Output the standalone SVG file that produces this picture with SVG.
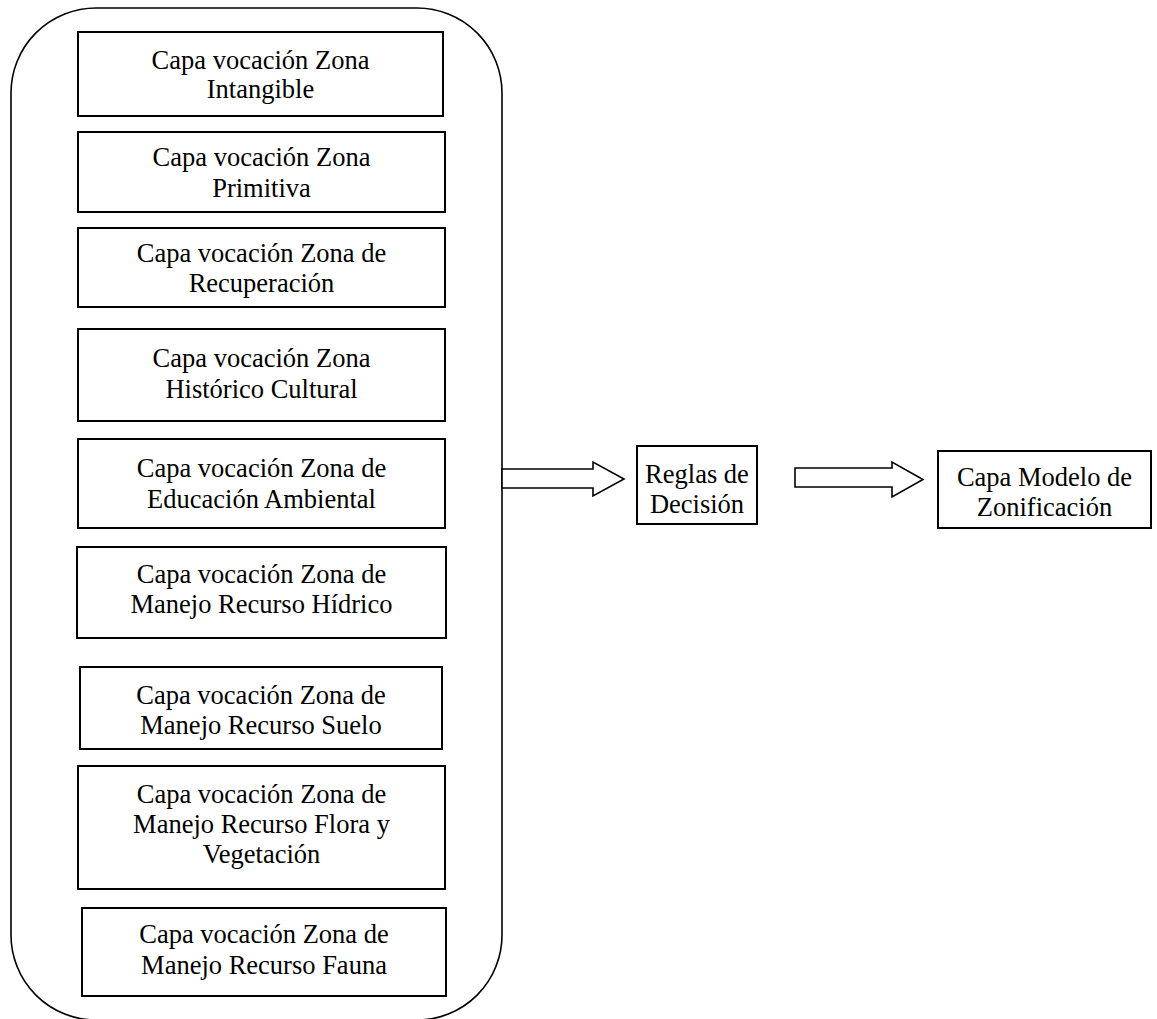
<svg xmlns="http://www.w3.org/2000/svg" width="1157" height="1019" viewBox="0 0 1157 1019">
<style>
.box{fill:#fff;stroke:#000;stroke-width:2}
.outer{fill:#fff;stroke:#000;stroke-width:1.6}
.arr{fill:#fff;stroke:#000;stroke-width:1.6;stroke-linejoin:miter}
text{font-family:"Liberation Serif","Times New Roman",serif;font-size:26.5px;fill:#000;text-anchor:middle}
</style>
<rect width="1157" height="1019" fill="#fff"/>
<g id="container">
<rect class="outer" x="11" y="8" width="491" height="1012" rx="85" ry="85"/>
</g>
<g id="n1"><rect class="box" x="78" y="32" width="365" height="84"/><text x="260.5" y="69">Capa vocación Zona</text><text x="260.5" y="98">Intangible</text></g>
<g id="n2"><rect class="box" x="78" y="132" width="367" height="80"/><text x="261.5" y="166">Capa vocación Zona</text><text x="261.5" y="197">Primitiva</text></g>
<g id="n3"><rect class="box" x="78" y="228" width="367" height="79"/><text x="261.5" y="262">Capa vocación Zona de</text><text x="261.5" y="292">Recuperación</text></g>
<g id="n4"><rect class="box" x="78" y="329" width="367" height="92"/><text x="261.5" y="367">Capa vocación Zona</text><text x="261.5" y="398">Histórico Cultural</text></g>
<g id="n5"><rect class="box" x="78" y="439" width="367" height="89"/><text x="261.5" y="477">Capa vocación Zona de</text><text x="261.5" y="508">Educación Ambiental</text></g>
<g id="n6"><rect class="box" x="77" y="547" width="369" height="91"/><text x="261.5" y="583">Capa vocación Zona de</text><text x="261.5" y="613">Manejo Recurso Hídrico</text></g>
<g id="n7"><rect class="box" x="80" y="667" width="362" height="82"/><text x="261" y="704">Capa vocación Zona de</text><text x="261" y="734">Manejo Recurso Suelo</text></g>
<g id="n8"><rect class="box" x="78" y="766" width="367" height="123"/><text x="261.5" y="803">Capa vocación Zona de</text><text x="261.5" y="833">Manejo Recurso Flora y</text><text x="261.5" y="863">Vegetación</text></g>
<g id="n9"><rect class="box" x="82" y="908" width="364" height="88"/><text x="264" y="943">Capa vocación Zona de</text><text x="264" y="974">Manejo Recurso Fauna</text></g>
<g id="reglas"><rect class="box" x="637" y="446" width="120" height="78"/><text x="697" y="483">Reglas de</text><text x="697" y="513">Decisión</text></g>
<g id="modelo"><rect class="box" x="938" y="451" width="213" height="77"/><text x="1044.5" y="486">Capa Modelo de</text><text x="1044.5" y="516">Zonificación</text></g>
<g id="connectors">
<polygon class="arr" points="502,469 593,469 593,462 624,479 593,496 593,488 502,488"/>
<polygon class="arr" points="795,468 892,468 892,462 923,479.5 892,497 892,487 795,487"/>
</g>
</svg>
